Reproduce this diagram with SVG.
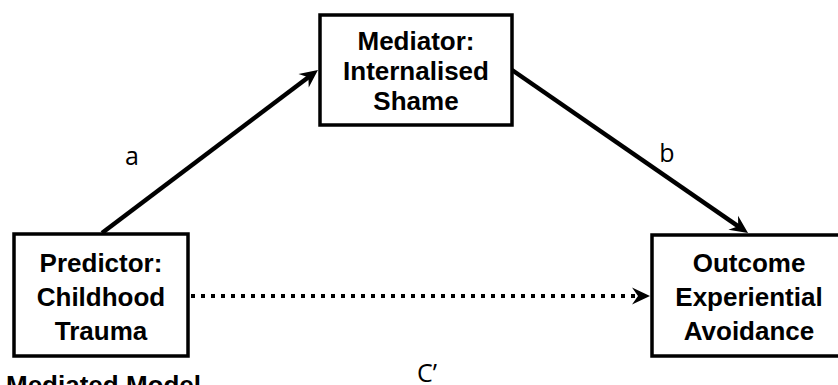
<svg xmlns="http://www.w3.org/2000/svg" width="838" height="385" viewBox="0 0 838 385">
  <style>
    .box { fill: #fff; stroke: #000; stroke-width: 3.5; }
    .lbl { font-family: "Liberation Sans", Arial, sans-serif; font-weight: bold; font-size: 26px; fill: #000; text-anchor: middle; }
    .path-lbl { font-family: "Open Sans", "Noto Sans", sans-serif; font-size: 25px; fill: #000; text-anchor: middle; }
    .conn { stroke: #000; stroke-width: 4.5; fill: none; }
    .dotted { stroke: #000; stroke-width: 4; fill: none; stroke-dasharray: 4 6; }
  </style>
  <defs>
    <marker id="arrow" viewBox="-20 -10 22 20" refX="-10" refY="0" markerWidth="22" markerHeight="20" markerUnits="userSpaceOnUse" orient="auto">
      <path d="M0,0 L-18,-8.5 L-12,0 L-18,8.5 Z" fill="#000"/>
    </marker>
  </defs>
  <rect width="838" height="385" fill="#fff"/>

  <g id="connectors">
    <line id="path-a" class="conn" x1="102" y1="233" x2="310" y2="76" marker-end="url(#arrow)"/>
    <line id="path-b" class="conn" x1="512" y1="70" x2="739.8" y2="227.3" marker-end="url(#arrow)"/>
    <line id="path-c" class="dotted" x1="191" y1="296" x2="640" y2="296" marker-end="url(#arrow)"/>
  </g>

  <g id="node-mediator">
    <rect class="box" x="320" y="15" width="192" height="110"/>
    <text class="lbl" x="416" y="50">Mediator:</text>
    <text class="lbl" x="416" y="80">Internalised</text>
    <text class="lbl" x="416" y="110">Shame</text>
  </g>

  <g id="node-predictor">
    <rect class="box" x="14" y="234" width="174" height="122"/>
    <text class="lbl" x="101" y="272">Predictor:</text>
    <text class="lbl" x="101" y="306">Childhood</text>
    <text class="lbl" x="101" y="340">Trauma</text>
  </g>

  <g id="node-outcome">
    <rect class="box" x="652" y="235" width="194" height="121"/>
    <text class="lbl" x="749" y="272">Outcome</text>
    <text class="lbl" x="749" y="306">Experiential</text>
    <text class="lbl" x="749" y="340">Avoidance</text>
  </g>

  <g id="labels">
    <text class="path-lbl" x="132" y="165">a</text>
    <text class="path-lbl" x="667" y="162">b</text>
    <text class="path-lbl" x="427" y="382">C’</text>
    <text class="lbl" x="6" y="394" style="text-anchor:start">Mediated Model</text>
  </g>
</svg>
